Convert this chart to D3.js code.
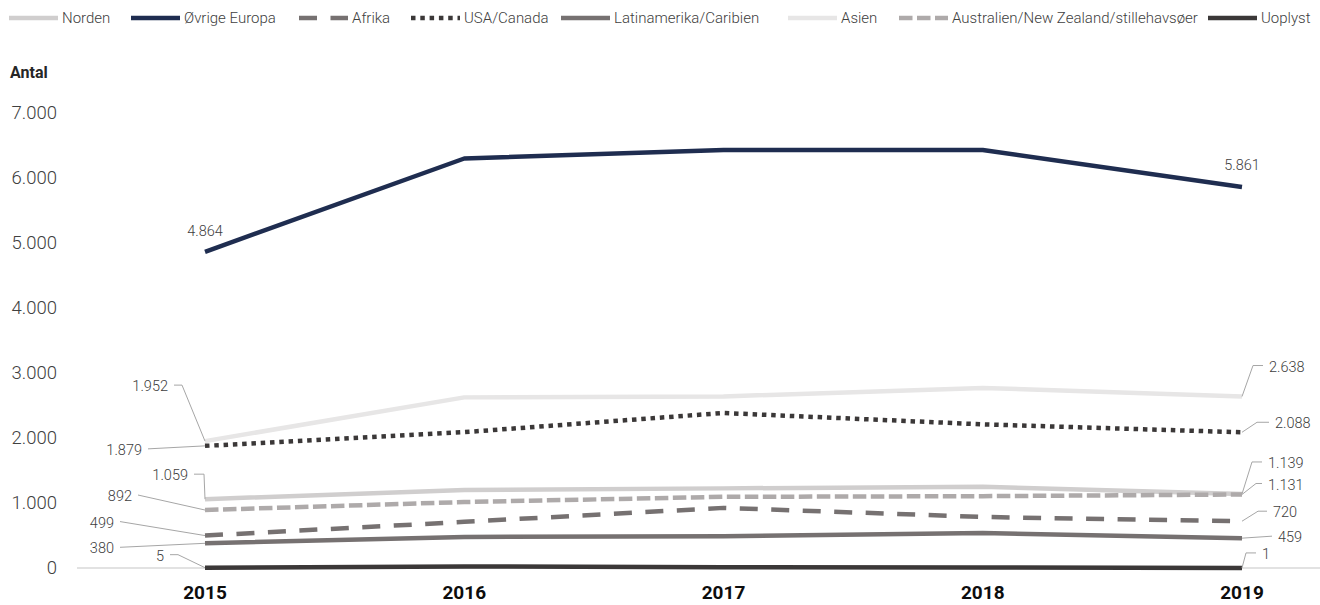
<!DOCTYPE html>
<html><head><meta charset="utf-8">
<script src="https://cdn.jsdelivr.net/npm/d3@7"></script>
<style>
html,body{margin:0;padding:0;background:#fff;}
svg{display:block;font-family:Roboto,"Noto Sans",sans-serif;}
</style></head>
<body>
<svg id="chart" width="1320" height="605"></svg>
<script>
// ---- data ----
const years = ["2015","2016","2017","2018","2019"];
const seriesNames = ["Norden","Øvrige Europa","Afrika","USA/Canada","Latinamerika/Caribien","Asien","Australien/New Zealand/stillehavsøer","Uoplyst"];
const norden      = [1059, 1200, 1225, 1250, 1139];
const europa      = [4864, 6300, 6430, 6430, 5861];
const afrika      = [499, 710, 925, 785, 720];
const usaCanada   = [1879, 2090, 2385, 2210, 2088];
const latinamerika= [380, 477, 490, 538, 459];
const asien       = [1952, 2625, 2640, 2770, 2638];
const australien  = [892, 1015, 1095, 1105, 1131];
const uoplyst     = [5, 25, 10, 8, 1];
const yTicks = [0,1000,2000,3000,4000,5000,6000,7000];
const yTitle = "Antal";

// ---- styles / layout (not data) ----
const seriesValues = [norden, europa, afrika, usaCanada, latinamerika, asien, australien, uoplyst];
const styles = [
  {color:"#d0cece", dash:null},
  {color:"#1f2d50", dash:null},
  {color:"#767171", dash:"18,13.5"},
  {color:"#3b3838", dash:"4.5,4.8"},
  {color:"#767171", dash:null},
  {color:"#e7e6e6", dash:null},
  {color:"#aeaaaa", dash:"13.5,4.5"},
  {color:"#3b3838", dash:null}
];
const labelLayout = [
  [{dx:-17,dy:-24,el:10},{dx:26,dy:-31,el:10}],
  [{dx:0,dy:-21,c:true},{dx:0,dy:-22,c:true}],
  [{dx:-91,dy:-13,el:0},{dx:31,dy:-9,el:9}],
  [{dx:-63,dy:4,el:0},{dx:33,dy:-9,el:12}],
  [{dx:-91,dy:5,el:0},{dx:36,dy:-1,el:0}],
  [{dx:-37,dy:-55,el:8},{dx:27,dy:-30,el:10}],
  [{dx:-73,dy:-14,el:0},{dx:26,dy:-10,el:6}],
  [{dx:-41,dy:-12,el:8},{dx:20,dy:-14,el:10}]
];
const legendX = [9,131,299,411,561,788,899,1208];
const drawOrder = [0,5,1,3,6,2,4,7];

const locale = d3.formatLocale({decimal:",", thousands:".", grouping:[3], currency:["","kr"]});
const fmt = locale.format(",.0f");

const svg = d3.select("#chart");
const x = d3.scalePoint().domain(years).range([205,1242]);
const y = d3.scaleLinear().domain([0,7000]).range([568,113]);

svg.append("line").attr("x1",77).attr("x2",1320).attr("y1",y(0)).attr("y2",y(0))
  .attr("stroke","#d9d9d9").attr("stroke-width",1.3);

svg.append("g").selectAll("text").data(yTicks).join("text")
  .attr("x",57).attr("y",d=>y(d)).attr("dy","0.35em").attr("text-anchor","end")
  .attr("font-size",18.5).attr("font-weight",300).attr("fill","#404040")
  .text(d=>fmt(d));

svg.append("text").attr("x",10).attr("y",78).attr("font-size",16).attr("font-weight",700)
  .attr("fill","#262626").text(yTitle);

svg.append("g").selectAll("text").data(years).join("text")
  .attr("x",d=>x(d)).attr("y",599).attr("text-anchor","middle")
  .attr("font-size",19).attr("font-weight",700).attr("fill","#0d0d0d").text(d=>d);

const line = d3.line().x((d,i)=>x(years[i])).y(d=>y(d));

drawOrder.forEach(k=>{
  const st = styles[k];
  svg.append("path").datum(seriesValues[k]).attr("d",line)
    .attr("fill","none").attr("stroke",st.color).attr("stroke-width",4.5)
    .attr("stroke-linejoin","round")
    .attr("stroke-dasharray",st.dash);
});

const lg = svg.append("g");
seriesValues.forEach((vals,k)=>{
  [0,vals.length-1].forEach((idx,j)=>{
    const L = labelLayout[k][j];
    const px = x(years[idx]), py = y(vals[idx]);
    const tx = px+L.dx, ty = py+L.dy;
    if(L.c){
      lg.append("text").attr("x",tx).attr("y",ty).attr("dy","0.35em").attr("text-anchor","middle")
        .attr("font-size",14.5).attr("font-weight",300).attr("fill","#404040").text(fmt(vals[idx]));
      return;
    }
    const left = j===0;
    const gap = 6;
    const e1 = left ? tx+gap : tx-gap;
    const e2 = left ? e1+L.el : e1-L.el;
    lg.append("path").attr("d",`M${e1},${ty-1}L${e2},${ty-1}L${px},${py}`)
      .attr("fill","none").attr("stroke","#a6a6a6").attr("stroke-width",1);
    lg.append("text").attr("x",tx).attr("y",ty).attr("dy","0.35em")
      .attr("text-anchor",left?"end":"start")
      .attr("font-size",14.5).attr("font-weight",300).attr("fill","#404040").text(fmt(vals[idx]));
  });
});

const leg = svg.append("g");
seriesNames.forEach((name,k)=>{
  const st = styles[k];
  const lx = legendX[k];
  leg.append("line").attr("x1",lx).attr("x2",lx+49).attr("y1",18).attr("y2",18)
    .attr("stroke",st.color).attr("stroke-width",4.5).attr("stroke-dasharray",st.dash);
  leg.append("text").attr("x",lx+53).attr("y",18).attr("dy","0.35em")
    .attr("font-size",15).attr("font-weight",300).attr("fill","#404040")
    .text(name);
});
</script>
</body></html>
